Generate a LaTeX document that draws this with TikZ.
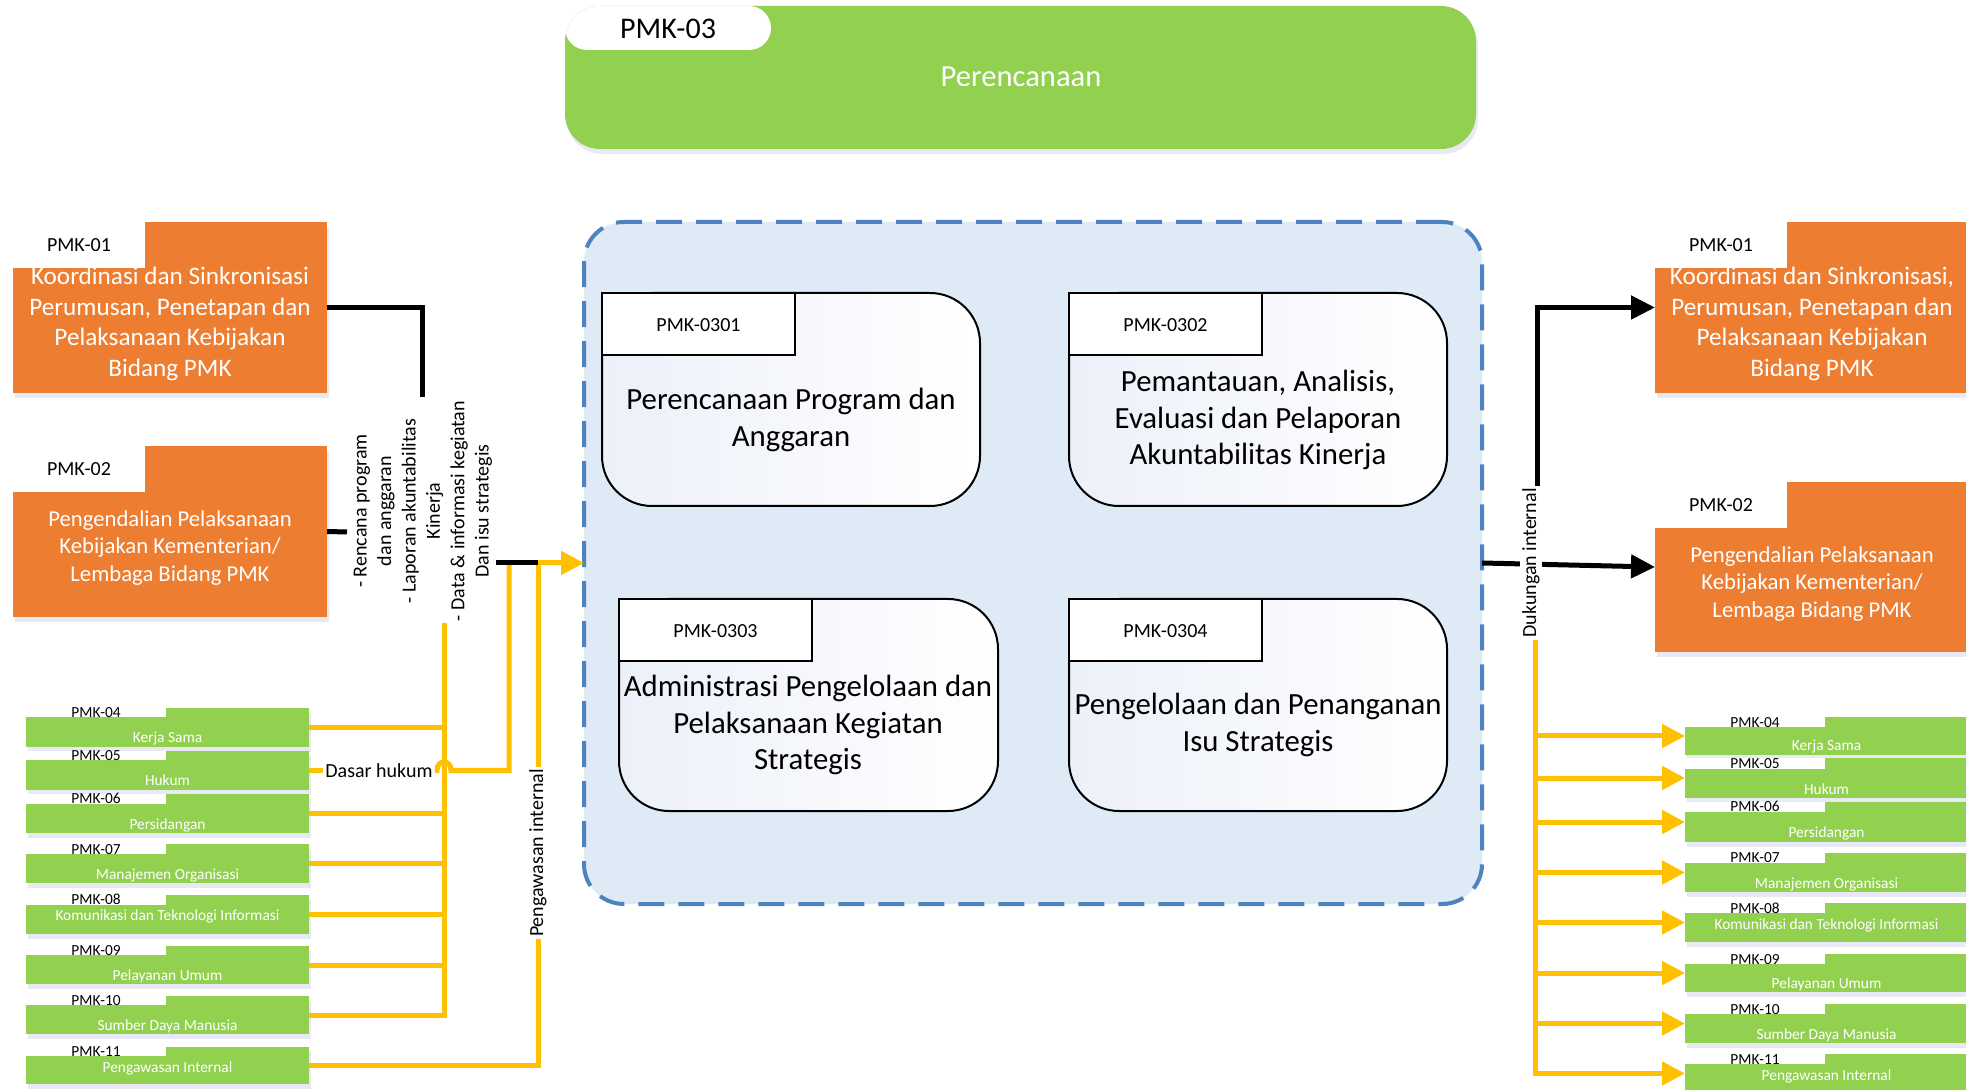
\documentclass[tikz,border=0pt]{standalone}
\usepackage{fontspec}
\setmainfont{Carlito}
\usetikzlibrary{arrows.meta,shadows,fit}
\definecolor{org}{HTML}{ED7D31}
\definecolor{grn}{HTML}{92D050}
\definecolor{ylw}{HTML}{FFC000}
\definecolor{grpfill}{HTML}{DEEAF6}
\definecolor{grpline}{HTML}{4F83C0}
\definecolor{procl}{HTML}{ECF0F9}
\tikzset{
  fitbox/.style={inner sep=0pt, outer sep=0pt},
  shd/.style={drop shadow={shadow xshift=1pt, shadow yshift=-2.5pt, opacity=0.12, fill=blue!40!gray}},
  orgbox/.style={fitbox, fill=org, shd},
  grnbox/.style={fitbox, fill=grn, shd},
  procbox/.style={fitbox, draw=black, line width=1pt, rounded corners=25pt, left color=procl, right color=white},
  proctab/.style={fitbox, draw=black, line width=1pt, fill=white},
  f10/.style={font=\fontsize{10}{12.2}\selectfont},
  f125/.style={font=\fontsize{12.6}{15.35}\selectfont},
  f1125/.style={font=\fontsize{11.35}{13.75}\selectfont},
  f145/.style={font=\fontsize{15.4}{18.2}\selectfont},
  f75/.style={font=\fontsize{7.7}{9}\selectfont},
  wtxt/.style={text=white, align=center, inner sep=0pt},
  btxt/.style={text=black, align=center, inner sep=0pt},
  yl/.style={draw=ylw, line width=2.5pt},
  bk/.style={draw=black, line width=2.5pt},
  ytip/.style={-{Triangle[length=11.5pt,width=11.5pt]}},
  btip/.style={-{Triangle[length=12pt,width=11.5pt]}},
  lab/.style={f10, inner sep=1pt, fill=white}
}
\newcommand\greenbx[8]{%
  \node[grnbox, fit={(#2,#3)(#2+283,#4)}] (#1) {};
  \fill[white] (#2,#3) rectangle (#2+139.5,#8);
  \node[f75, anchor=base, inner sep=0pt] (#1id) at (#2+70,#8) {#5};
  \node[f75, anchor=base, inner sep=0pt, text=white] (#1tx) at (#2+141.5,#7) {#6};
}
\newcommand\procbx[6]{%
  \node[procbox, fit={(#2,#3)(#4,#5)}] (#1) {};
  \node[proctab, fit={(#2,#3)(#2+193,#3+62)}] (#1tab) {};
  \node[f10, anchor=base, inner sep=0pt] (#1id) at (#2+96.5,#3+39) {#6};
}
\begin{document}
\begin{tikzpicture}[x=0.5pt,y=-0.5pt,line join=miter]
\useasboundingbox (0,0) rectangle (1966,1090);
\clip (0,0) rectangle (1966,1090);

% ---------- top box PMK-03
\node[fitbox, fill=grn, rounded corners=17.5pt, shd, fit={(565,6)(1476,149)}] (p03) {};
\begin{scope}
  \clip[rounded corners=17.5pt] (565,6) rectangle (1476,149);
  \fill[white, rounded corners=11pt] (565,6) rectangle (771,50);
\end{scope}
\node[font=\fontsize{15}{18}\selectfont, anchor=base, inner sep=0pt] (p03id) at (668,38.5) {PMK-03};
\node[font=\fontsize{15.3}{18}\selectfont, text=white, anchor=base, inner sep=0pt] (p03t) at (1021,87) {Perencanaan};

% ---------- group box
\node[fitbox, fill=grpfill, draw=grpline, line width=2pt, dash pattern=on 13pt off 7pt, rounded corners=20pt, fit={(584,222)(1482,904)}] (grp) {};

\procbx{q1}{602}{293}{980}{506}{PMK-0301}
\node[f145, btxt] (q1tx) at (791,420) {Perencanaan Program dan\\Anggaran};
\procbx{q2}{1069}{293}{1447}{506}{PMK-0302}
\node[f145, btxt] (q2tx) at (1258,420) {Pemantauan, Analisis,\\Evaluasi dan Pelaporan\\Akuntabilitas Kinerja};
\procbx{q3}{619}{599}{998}{811}{PMK-0303}
\node[f145, btxt] (q3tx) at (808,725) {Administrasi Pengelolaan dan\\Pelaksanaan Kegiatan\\Strategis};
\procbx{q4}{1069}{599}{1447}{811}{PMK-0304}
\node[f145, btxt] (q4tx) at (1258,725) {Pengelolaan dan Penanganan\\Isu Strategis};

% ---------- orange boxes left
\node[orgbox, fit={(13,222)(327,393)}] (p01L) {};
\fill[white] (13,222) rectangle (145,268);
\node[f10, anchor=base, inner sep=0pt] (p01Lid) at (79,252) {PMK-01};
\node[wtxt, f125] (p01Ltx) at (170,324) {Koordinasi dan Sinkronisasi\\Perumusan, Penetapan dan\\Pelaksanaan Kebijakan\\Bidang PMK};

\node[orgbox, fit={(13,446)(327,617)}] (p02L) {};
\fill[white] (13,446) rectangle (145,492);
\node[f10, anchor=base, inner sep=0pt] (p02Lid) at (79,476) {PMK-02};
\node[wtxt, f1125] (p02Ltx) at (170,548) {Pengendalian Pelaksanaan\\Kebijakan Kementerian/\\Lembaga Bidang PMK};

% ---------- orange boxes right
\node[orgbox, fit={(1655,222)(1969,393)}] (p01R) {};
\fill[white] (1655,222) rectangle (1787,268);
\node[f10, anchor=base, inner sep=0pt] (p01Rid) at (1721,252) {PMK-01};
\node[wtxt, f125] (p01Rtx) at (1812,324) {Koordinasi dan Sinkronisasi,\\Perumusan, Penetapan dan\\Pelaksanaan Kebijakan\\Bidang PMK};

\node[orgbox, fit={(1655,482)(1969,652)}] (p02R) {};
\fill[white] (1655,482) rectangle (1787,528);
\node[f10, anchor=base, inner sep=0pt] (p02Rid) at (1721,512) {PMK-02};
\node[wtxt, f1125] (p02Rtx) at (1812,584) {Pengendalian Pelaksanaan\\Kebijakan Kementerian/\\Lembaga Bidang PMK};

% ---------- green boxes left
\greenbx{g4L}{26}{708}{747}{PMK-04}{Kerja Sama}{742}{717.5}
\greenbx{g5L}{26}{751}{790}{PMK-05}{Hukum}{785}{760.5}
\greenbx{g6L}{26}{794}{833}{PMK-06}{Persidangan}{829}{804}
\greenbx{g7L}{26}{844}{883}{PMK-07}{Manajemen Organisasi}{879}{854}
\greenbx{g8L}{26}{895}{934}{PMK-08}{Komunikasi dan Teknologi Informasi}{920}{904.5}
\greenbx{g9L}{26}{946}{984}{PMK-09}{Pelayanan Umum}{980}{955}
\greenbx{g10L}{26}{996}{1034}{PMK-10}{Sumber Daya Manusia}{1030}{1005}
\greenbx{g11L}{26}{1047}{1084}{PMK-11}{Pengawasan Internal}{1072}{1056}

% ---------- green boxes right
\greenbx{g4R}{1685}{717}{755}{PMK-04}{Kerja Sama}{751}{727}
\greenbx{g5R}{1685}{758}{798}{PMK-05}{Hukum}{794}{769}
\greenbx{g6R}{1685}{802}{842}{PMK-06}{Persidangan}{837}{812}
\greenbx{g7R}{1685}{853}{892}{PMK-07}{Manajemen Organisasi}{888}{863}
\greenbx{g8R}{1685}{903}{942}{PMK-08}{Komunikasi dan Teknologi Informasi}{929}{913}
\greenbx{g9R}{1685}{954}{992}{PMK-09}{Pelayanan Umum}{988}{964}
\greenbx{g10R}{1685}{1004}{1043}{PMK-10}{Sumber Daya Manusia}{1039}{1014}
\greenbx{g11R}{1685}{1054}{1093}{PMK-11}{Pengawasan Internal}{1080}{1064}

% ---------- left connectors
\node[f10, rotate=90, align=center, inner sep=0pt] (lbl) at (423,511) {- Rencana program\\dan anggaran\\- Laporan akuntabilitas\\Kinerja\\- Data \& informasi kegiatan\\Dan isu strategis};
\coordinate (c01) at (422,397);
\coordinate (c02) at (347,532);
\draw[bk] (p01L.east) -| (c01);
\draw[bk] (p02L.east) -- (c02);

\coordinate (trL) at (444,623);
\coordinate (jA) at (509,563);
\coordinate (jB) at (538,563);
\coordinate (lblout) at (496,563);

\foreach \g in {g4L,g6L,g7L,g8L,g9L} \draw[yl] (\g.east) -- (\g.east -| trL);
\draw[yl] (g10L.east) -| (trL);
\node[lab] (dh) at (379,770.5) {Dasar hukum};
\draw[yl] (g5L.east) -- (dh.west);
\draw[yl] (dh.east) -- (437,770.5) .. controls (437,759) and (451,759) .. (451,770.5) -| (jA);
\draw[yl] (g11L.east) -| (jB);
\node[lab, rotate=90] (pi) at (538,853) {Pengawasan internal};
\draw[bk] (lblout) -- (jB);
\draw[yl, ytip] (jB) -- (grp.west);

% ---------- right connectors
\draw[bk, btip] (grp.east) -- (p02R.west);
\node[lab, rotate=90] (di) at (1531,563) {Dukungan internal};
\coordinate (du1) at (1537,486);
\draw[bk, btip] (du1) |- (p01R.west);
\coordinate (trR) at (1535,640);
\foreach \g in {g4R,g5R,g6R,g7R,g8R,g9R,g10R} \draw[yl, ytip] (\g.west -| trR) -- (\g.west);
\draw[yl, ytip] (trR) |- (g11R.west);
\end{tikzpicture}
\end{document}
